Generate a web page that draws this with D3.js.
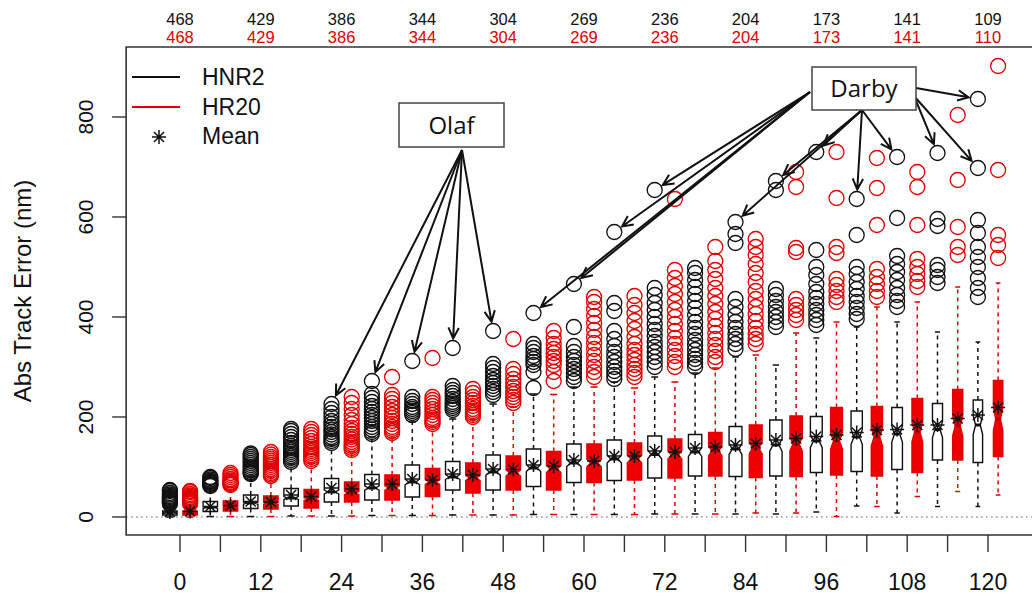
<!DOCTYPE html>
<html>
<head>
<meta charset="utf-8">
<script src="https://cdn.jsdelivr.net/npm/d3@7"></script>
<style>
  body { margin: 0; background: #fff; }
  svg text { font-family: "Liberation Sans", Arial, sans-serif; }
</style>
</head>
<body>
<div id="chart"></div>
<script>
// lead times (h) and sample sizes
const leads = [0, 6, 12, 18, 24, 30, 36, 42, 48, 54, 60, 66, 72, 78, 84, 90, 96, 102, 108, 114, 120];
const countLeads = [0, 12, 24, 36, 48, 60, 72, 84, 96, 108, 120];
const countHNR2 = [468, 429, 386, 344, 304, 269, 236, 204, 173, 141, 109];
const countHR20 = [468, 429, 386, 344, 304, 269, 236, 204, 173, 141, 110];
// estimated n at every lead (used for box width / notch)
const nAll = [468, 449, 429, 408, 386, 365, 344, 324, 304, 287, 269, 252, 236, 220, 204, 189, 173, 157, 141, 125, 109];

// HNR2 (black)
const hnr2Q1 = [4, 11, 17, 22, 30, 34, 40, 54, 54, 61, 69, 73, 78, 82, 81, 82, 89, 91, 95, 114, 109];
const hnr2Med = [8, 19, 28, 38, 50, 58, 70, 80, 90, 98, 108, 116, 125, 130, 136, 144, 152, 160, 166, 175, 184];
const hnr2Q3 = [12, 31, 44, 57, 77, 85, 104, 111, 124, 136, 146, 154, 162, 165, 181, 194, 201, 212, 219, 227, 234];
const hnr2Lo = [0, 1, 1, 2, 2, 3, 3, 4, 4, 5, 5, 5, 6, 6, 6, 6, 10, 22, 8, 21, 21];
const hnr2Hi = [20, 58, 82, 106, 144, 160, 190, 196, 226, 246, 260, 270, 280, 288, 320, 304, 358, 380, 390, 370, 350];
const hnr2Mean = [10, 21, 31, 44, 58, 66, 76, 86, 96, 104, 114, 122, 132, 138, 144, 154, 161, 169, 175, 184, 204];
const hnr2Out = [
  [26, 28, 30, 32, 34, 36, 38, 40, 42, 45, 48, 52, 54],
  [62, 64, 66, 68, 70, 72, 75, 78, 80],
  [86, 88, 90, 93, 96, 100, 104, 108, 112, 116, 120, 124, 127],
  [110, 114, 118, 122, 126, 130, 134, 138, 142, 148, 154, 160, 166, 172, 176],
  [148, 152, 156, 160, 165, 170, 175, 180, 186, 192, 200, 208, 216, 226],
  [166, 170, 175, 180, 186, 192, 198, 204, 210, 216, 222, 230, 238, 246, 272],
  [204, 208, 212, 216, 220, 226, 232, 240, 312],
  [214, 218, 222, 226, 230, 236, 242, 248, 254, 262, 338],
  [244, 250, 256, 262, 268, 274, 282, 290, 298, 306, 372],
  [258, 290, 304, 310, 316, 322, 330, 338, 346, 408],
  [272, 280, 288, 296, 304, 312, 320, 330, 342, 380, 466],
  [276, 284, 292, 300, 310, 320, 330, 342, 356, 372, 412, 428, 570],
  [300, 310, 320, 330, 340, 350, 362, 374, 386, 400, 414, 428, 444, 458, 654],
  [300, 308, 316, 324, 334, 344, 354, 366, 378, 390, 404, 418, 432, 446, 460, 474, 488, 498],
  [336, 346, 356, 366, 378, 390, 404, 420, 436, 548, 566, 590],
  [380, 390, 400, 410, 420, 432, 444, 456, 654, 672],
  [384, 394, 404, 414, 426, 438, 450, 466, 484, 500, 534, 730],
  [396, 406, 418, 430, 442, 456, 470, 486, 500, 564, 636],
  [420, 432, 444, 458, 474, 490, 506, 522, 598, 720],
  [468, 480, 494, 504, 582, 596, 728],
  [440, 458, 478, 500, 520, 540, 568, 594, 698, 836]
];

// HR20 (red)
const hr20Q1 = [4, 12, 16, 18, 30, 34, 41, 48, 54, 54, 69, 74, 78, 82, 79, 81, 84, 82, 89, 114, 121];
const hr20Med = [8, 20, 27, 36, 48, 58, 70, 78, 88, 96, 108, 116, 124, 132, 138, 146, 152, 160, 170, 182, 196];
const hr20Q3 = [12, 32, 42, 55, 70, 84, 97, 108, 122, 131, 146, 148, 156, 169, 184, 202, 219, 221, 237, 255, 273];
const hr20Lo = [0, 1, 1, 2, 2, 3, 3, 4, 4, 5, 5, 5, 6, 6, 8, 8, 1, 21, 41, 51, 44];
const hr20Hi = [20, 60, 80, 108, 130, 158, 180, 195, 220, 245, 260, 258, 270, 298, 324, 368, 390, 420, 430, 460, 468];
const hr20Mean = [11, 23, 30, 41, 56, 66, 74, 84, 95, 102, 112, 122, 130, 140, 147, 157, 164, 174, 184, 197, 219];
const hr20Out = [
  [26, 28, 30, 32, 34, 36, 38, 40, 43, 46, 50, 52],
  [64, 66, 68, 70, 73, 76, 80, 84, 88],
  [82, 85, 88, 92, 96, 100, 104, 108, 112, 116, 120, 125, 130],
  [112, 116, 120, 124, 128, 132, 136, 140, 146, 152, 158, 164, 170, 176],
  [134, 138, 142, 146, 150, 155, 160, 166, 172, 178, 186, 194, 204, 216, 228, 240],
  [168, 172, 176, 180, 186, 192, 198, 204, 212, 220, 228, 236, 244, 280],
  [186, 190, 194, 198, 204, 210, 216, 222, 228, 234, 240, 318],
  [200, 204, 208, 212, 216, 222, 228, 234, 240, 248, 256],
  [228, 234, 240, 246, 252, 260, 268, 276, 286, 296, 356],
  [272, 290, 304, 312, 320, 328, 336, 346, 358, 372],
  [280, 290, 300, 312, 324, 336, 348, 360, 374, 388, 402, 416, 430, 440],
  [280, 288, 296, 304, 314, 324, 334, 346, 360, 376, 392, 408, 424, 442],
  [300, 310, 322, 334, 346, 358, 372, 386, 400, 414, 430, 446, 462, 478, 494, 636],
  [310, 320, 332, 344, 356, 368, 382, 396, 410, 426, 442, 458, 476, 494, 512, 540],
  [346, 356, 366, 378, 392, 406, 420, 436, 452, 470, 488, 506, 524, 540, 556],
  [394, 404, 414, 424, 436, 530, 538, 660, 690],
  [430, 440, 452, 464, 476, 528, 540, 638, 730],
  [440, 452, 466, 480, 496, 584, 658, 718],
  [460, 472, 486, 500, 516, 584, 660, 690],
  [524, 540, 580, 674, 804],
  [518, 544, 564, 694, 902]
];

const yTicks = [0, 200, 400, 600, 800];
const xLabels = [0, 12, 24, 36, 48, 60, 72, 84, 96, 108, 120];

// annotations: the HNR2 outliers each arrow points at (lead, value)
const olafTargets = [[24, 226], [30, 272], [36, 312], [42, 338], [48, 372]];
const darbyLeft = [[72, 654], [66, 570], [60, 466], [54, 408]];
const darbyBottom = [[84, 590], [90, 672], [96, 730], [102, 636], [108, 720]];
const darbyRight = [[114, 728], [120, 698]];
const darbyFlat = [[120, 836]];

const W = 1032, H = 594;
const svg = d3.select("#chart").append("svg").attr("width", W).attr("height", H);

const x = d3.scaleLinear().domain([0, 120]).range([180, 988]);
const y = d3.scaleLinear().domain([0, 800]).range([517, 117]);
const off = 1.5; // hours between paired boxes and tick
const R = 7.5;

const plotL = x(-8), plotR = 1045, plotT = y(940), plotB = y(-36);

// zero line
svg.append("line")
  .attr("x1", plotL).attr("x2", plotR)
  .attr("y1", y(0)).attr("y2", y(0))
  .attr("stroke", "#555").attr("stroke-width", 1.2)
  .attr("stroke-dasharray", "1.5,3.5");

const models = [
  { q1: hnr2Q1, med: hnr2Med, q3: hnr2Q3, lo: hnr2Lo, hi: hnr2Hi, mean: hnr2Mean, out: hnr2Out,
    dx: -off, stroke: "#111", fill: "#fff", medCol: "#111" },
  { q1: hr20Q1, med: hr20Med, q3: hr20Q3, lo: hr20Lo, hi: hr20Hi, mean: hr20Mean, out: hr20Out,
    dx: off, stroke: "#e00000", fill: "#ee0000", medCol: "#b00000" }
];

const boxes = svg.append("g");

leads.forEach((lead, i) => {
  models.forEach((m) => {
    const cx = x(lead + m.dx);
    const n = nAll[i];
    const hw = Math.min(7.2, 0.45 * Math.sqrt(n));
    const q1 = m.q1[i], q3 = m.q3[i], md = m.med[i];
    const notch = 1.58 * (q3 - q1) / Math.sqrt(n);
    const g = boxes.append("g");

    // whiskers
    [[q3, m.hi[i]], [q1, m.lo[i]]].forEach(([a, b]) => {
      g.append("line")
        .attr("x1", cx).attr("x2", cx)
        .attr("y1", y(a)).attr("y2", y(b))
        .attr("stroke", m.stroke).attr("stroke-width", 1.5)
        .attr("stroke-dasharray", "4,4");
      g.append("line")
        .attr("x1", cx - hw / 2).attr("x2", cx + hw / 2)
        .attr("y1", y(b)).attr("y2", y(b))
        .attr("stroke", m.stroke).attr("stroke-width", 1.5);
    });

    // notched box
    const pts = [
      [cx - hw, y(q1)], [cx + hw, y(q1)], [cx + hw, y(md - notch)], [cx + hw / 2, y(md)],
      [cx + hw, y(md + notch)], [cx + hw, y(q3)], [cx - hw, y(q3)], [cx - hw, y(md + notch)],
      [cx - hw / 2, y(md)], [cx - hw, y(md - notch)]
    ];
    g.append("polygon")
      .attr("points", pts.map((p) => p.join(",")).join(" "))
      .attr("fill", m.fill).attr("stroke", m.stroke).attr("stroke-width", 1.4);
    g.append("line")
      .attr("x1", cx - hw / 2).attr("x2", cx + hw / 2)
      .attr("y1", y(md)).attr("y2", y(md))
      .attr("stroke", m.medCol).attr("stroke-width", 3);

    // outliers
    g.selectAll("circle")
      .data(m.out[i])
      .enter()
      .append("circle")
      .attr("cx", cx).attr("cy", (d) => y(d)).attr("r", R)
      .attr("fill", "none").attr("stroke", m.stroke).attr("stroke-width", 1.3);
  });
});

// mean asterisks
function asterisk(g, cx, cy, s) {
  const d = s * 0.72;
  const p = `M${cx - s},${cy}L${cx + s},${cy}M${cx},${cy - s}L${cx},${cy + s}` +
    `M${cx - d},${cy - d}L${cx + d},${cy + d}M${cx - d},${cy + d}L${cx + d},${cy - d}`;
  g.append("path").attr("d", p).attr("stroke", "#111").attr("stroke-width", 1.5).attr("fill", "none");
}
const means = svg.append("g");
leads.forEach((lead, i) => {
  models.forEach((m) => asterisk(means, x(lead + m.dx), y(m.mean[i]), 7));
});

// frame
svg.append("path")
  .attr("d", `M${plotR},${plotT}L${plotL},${plotT}L${plotL},${plotB}L${plotR},${plotB}`)
  .attr("fill", "none").attr("stroke", "#333").attr("stroke-width", 1.6);

// x axis
const xAxis = svg.append("g");
xAxis.selectAll("line")
  .data(leads)
  .enter()
  .append("line")
  .attr("x1", (d) => x(d)).attr("x2", (d) => x(d))
  .attr("y1", plotB).attr("y2", plotB + 17)
  .attr("stroke", "#333").attr("stroke-width", 1.4);
xAxis.selectAll("text")
  .data(xLabels)
  .enter()
  .append("text")
  .attr("x", (d) => x(d)).attr("y", 590)
  .attr("text-anchor", "middle")
  .attr("font-size", 23)
  .attr("fill", "#111")
  .text((d) => d);

// y axis
const yAxis = svg.append("g");
yAxis.selectAll("line")
  .data(yTicks)
  .enter()
  .append("line")
  .attr("x1", plotL - 14).attr("x2", plotL)
  .attr("y1", (d) => y(d)).attr("y2", (d) => y(d))
  .attr("stroke", "#333").attr("stroke-width", 1.4);
yAxis.selectAll("text")
  .data(yTicks)
  .enter()
  .append("text")
  .attr("transform", (d) => `translate(93,${y(d)}) rotate(-90)`)
  .attr("text-anchor", "middle")
  .attr("font-size", 21)
  .attr("fill", "#111")
  .text((d) => d);
svg.append("text")
  .attr("transform", `translate(31,${(plotT + plotB) / 2}) rotate(-90)`)
  .attr("text-anchor", "middle")
  .attr("font-size", 24)
  .attr("fill", "#111")
  .text("Abs Track Error (nm)");

// sample counts on top
const counts = svg.append("g").attr("font-size", 16.5).attr("text-anchor", "middle");
counts.selectAll(".cb")
  .data(countLeads)
  .enter()
  .append("text")
  .attr("x", (d) => x(d)).attr("y", 25)
  .attr("fill", "#111")
  .text((d, i) => countHNR2[i]);
counts.selectAll(".cr")
  .data(countLeads)
  .enter()
  .append("text")
  .attr("x", (d) => x(d)).attr("y", 43)
  .attr("fill", "#e00000")
  .text((d, i) => countHR20[i]);

// legend
const legend = svg.append("g");
legend.append("line").attr("x1", 132).attr("x2", 180).attr("y1", 77).attr("y2", 77)
  .attr("stroke", "#111").attr("stroke-width", 2);
legend.append("line").attr("x1", 132).attr("x2", 180).attr("y1", 107).attr("y2", 107)
  .attr("stroke", "#e00000").attr("stroke-width", 2);
asterisk(legend, 159, 137, 7);
[["HNR2", 85], ["HR20", 115], ["Mean", 144]].forEach(([t, ty]) => {
  legend.append("text").attr("x", 202).attr("y", ty).attr("font-size", 23).attr("fill", "#111").text(t);
});

// annotations
function arrow(g, sx, sy, tx, ty) {
  const a = Math.atan2(ty - sy, tx - sx);
  const ex = tx - Math.cos(a) * (R + 2), ey = ty - Math.sin(a) * (R + 2);
  const h = 12, sp = 0.45;
  g.append("path")
    .attr("d", `M${sx},${sy}L${ex},${ey}` +
      `M${ex - h * Math.cos(a - sp)},${ey - h * Math.sin(a - sp)}L${ex},${ey}` +
      `L${ex - h * Math.cos(a + sp)},${ey - h * Math.sin(a + sp)}`)
    .attr("fill", "none").attr("stroke", "#111").attr("stroke-width", 2);
}
const ann = svg.append("g");
const bx = (lead) => x(lead - off);
olafTargets.forEach(([l, v]) => arrow(ann, 462, 150, bx(l), y(v)));
darbyLeft.forEach(([l, v]) => arrow(ann, 810, 92, bx(l), y(v)));
darbyBottom.forEach(([l, v]) => arrow(ann, 862, 110, bx(l), y(v)));
darbyRight.forEach(([l, v]) => arrow(ann, 914, 96, bx(l), y(v)));
darbyFlat.forEach(([l, v]) => arrow(ann, 916, 88, bx(l), y(v)));

function labelBox(g, text, x0, y0, w, h) {
  g.append("rect").attr("x", x0).attr("y", y0).attr("width", w).attr("height", h)
    .attr("fill", "#fff").attr("stroke", "#444").attr("stroke-width", 1.5);
  g.append("text").attr("x", x0 + w / 2).attr("y", y0 + h / 2 + 8.5)
    .attr("text-anchor", "middle")
    .attr("font-size", 24).attr("fill", "#111")
    .style("font-family", "'Open Sans', sans-serif")
    .text(text);
}
labelBox(ann, "Olaf", 399, 103, 105, 44);
labelBox(ann, "Darby", 812, 67, 104, 43);
</script>
</body>
</html>
